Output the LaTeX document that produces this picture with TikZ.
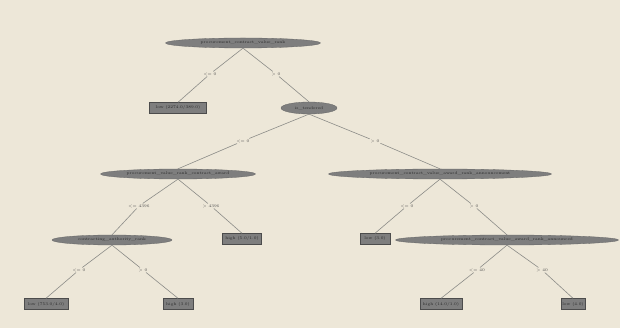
\documentclass[tikz,border=0pt]{standalone}
\usetikzlibrary{shapes.geometric}
\definecolor{bg}{HTML}{EDE7D8}
\definecolor{nodegray}{HTML}{7E7E7E}
\definecolor{edgegray}{HTML}{8C8C88}
\definecolor{txt}{HTML}{2A2A2A}
\tikzset{
  split/.style={ellipse,fill=nodegray,draw=nodegray!80!black,line width=0.3pt,inner sep=0pt,minimum height=#1,text=txt,font=\fontsize{4}{4.5}\selectfont},
  split/.default=10pt,
  leaf/.style={rectangle,fill=nodegray,draw=nodegray!60!black,line width=0.4pt,inner sep=0pt,minimum height=11pt,text=txt,font=\fontsize{4}{4.5}\selectfont},
  lab/.style={fill=bg,inner sep=0.8pt,text=txt!85,font=\fontsize{4}{4.5}\selectfont},
  edge/.style={draw=edgegray,line width=0.6pt}
}
\begin{document}
\begin{tikzpicture}[x=1pt,y=-1pt]
\fill[bg] (0,0) rectangle (620,328);
\useasboundingbox (0,0) rectangle (620,328);
% split nodes
\node[split,minimum width=155pt] (root) at (243,43) {procurement\_contract\_value\_rank};
\node[split=12pt,minimum width=56pt] (n1) at (309,108) {is\_tendered};
\node[split,minimum width=155pt] (n2) at (178,174) {procurement\_value\_rank\_contract\_award};
\node[split,minimum width=223pt] (n3) at (440,174) {procurement\_contract\_value\_award\_rank\_announcement};
\node[split,minimum width=120pt] (n4) at (112,240) {contracting\_authority\_rank};
\node[split,minimum width=223pt] (n5) at (507,240) {procurement\_contract\_value\_award\_rank\_announced};
% leaves
\node[leaf,minimum width=57pt] (a) at (178,108) {low (2274.0/389.0)};
\node[leaf,minimum width=39pt] (b) at (242,239) {high (5.0/1.0)};
\node[leaf,minimum width=30pt] (c) at (375,239) {low (3.0)};
\node[leaf,minimum width=44pt] (d) at (46,304) {low (753.0/4.0)};
\node[leaf,minimum width=30pt] (e) at (178,304) {high (3.0)};
\node[leaf,minimum width=42pt] (f) at (441,304) {high (14.0/1.0)};
\node[leaf,minimum width=24pt] (g) at (573,304) {low (4.0)};
% labels
\node[lab] (la) at (210,74) {<= 0};
\node[lab] (lb) at (276,74) {> 0};
\node[lab] (lc) at (243,141) {<= 0};
\node[lab] (ld) at (375,141) {> 0};
\node[lab] (le) at (139,206) {<= 4396};
\node[lab] (lf) at (211,206) {> 4396};
\node[lab] (lg) at (407,206) {<= 0};
\node[lab] (lh) at (474,206) {> 0};
\node[lab] (li) at (79,270) {<= 0};
\node[lab] (lj) at (143,270) {> 0};
\node[lab] (lk) at (477,270) {<= 40};
\node[lab] (ll) at (542,270) {> 40};
% edges
\draw[edge] (root.south) -- (la) -- (a.north);
\draw[edge] (root.south) -- (lb) -- (n1.north);
\draw[edge] (n1.south) -- (lc) -- (n2.north);
\draw[edge] (n1.south) -- (ld) -- (n3.north);
\draw[edge] (n2.south) -- (le) -- (n4.north);
\draw[edge] (n2.south) -- (lf) -- (b.north);
\draw[edge] (n3.south) -- (lg) -- (c.north);
\draw[edge] (n3.south) -- (lh) -- (n5.north);
\draw[edge] (n4.south) -- (li) -- (d.north);
\draw[edge] (n4.south) -- (lj) -- (e.north);
\draw[edge] (n5.south) -- (lk) -- (f.north);
\draw[edge] (n5.south) -- (ll) -- (g.north);
\end{tikzpicture}
\end{document}
